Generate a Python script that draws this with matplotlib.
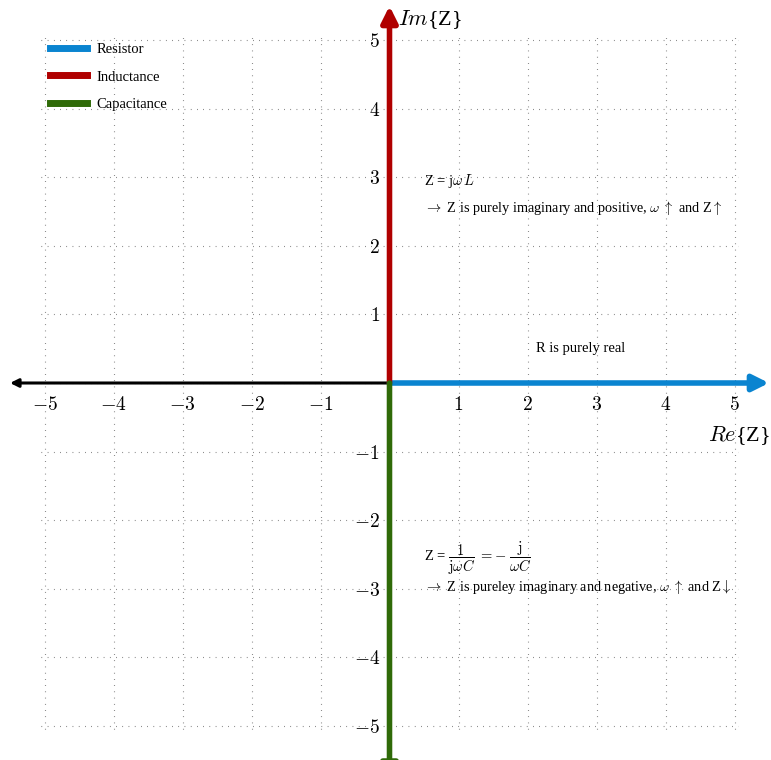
import matplotlib
matplotlib.use('Agg')
import matplotlib.pyplot as plt
from matplotlib.lines import Line2D

plt.rcParams['font.family'] = ['Liberation Serif', 'DejaVu Serif']
plt.rcParams['mathtext.fontset'] = 'cm'

##############################################################################
# Data
##############################################################################
ticks = [-5, -4, -3, -2, -1, 1, 2, 3, 4, 5]
tick_labels = [r'$%d$' % t if t > 0 else r'$-%d$' % -t for t in ticks]
grid_vals = [-5, -4, -3, -2, -1, 0, 1, 2, 3, 4, 5]

names = ['Resistor', 'Inductance', 'Capacitance']
colors = ['#0a84d0', '#b00000', '#2f6a08']
ends = [(5.5, 0), (0, 5.5), (0, -5.8)]  # phasor arrow tips
real_axis_tip = (-5.5, 0)

lim = 5.5

##############################################################################
# Plot
##############################################################################
fig = plt.figure(figsize=(7.71, 7.60), dpi=100)
ax = fig.add_axes([10 / 771, 0.0, 759 / 771, 754 / 760])
ax.set_xlim(-lim, lim)
ax.set_ylim(-lim, lim)

# dotted grid only over -5..5
for g in grid_vals:
    ax.plot([g, g], [-5.05, 5.05], color='#555555', lw=0.8,
            linestyle=(0, (0.6, 5)), zorder=0)
    ax.plot([-5.05, 5.05], [g, g], color='#555555', lw=0.8,
            linestyle=(0, (0.6, 5)), zorder=0)

# axes through origin, ticks only as labels
for s in ax.spines:
    ax.spines[s].set_visible(False)
ax.spines['bottom'].set_position('zero')
ax.spines['left'].set_position('zero')
ax.set_xticks(ticks)
ax.set_xticklabels(tick_labels, fontsize=14)
ax.set_yticks(ticks)
ax.set_yticklabels(tick_labels, fontsize=14)
ax.tick_params(axis='x', length=0, pad=9)
ax.tick_params(axis='y', length=0, pad=7)

# black negative real axis
ax.annotate('', xy=real_axis_tip, xytext=(0, 0),
            arrowprops=dict(arrowstyle='-|>', lw=2.2, color='black',
                            mutation_scale=12, shrinkA=0, shrinkB=0))

# phasor arrows (capacitance tip runs past the bottom edge)
for name, c, e in zip(names, colors, ends):
    ax.annotate('', xy=e, xytext=(0, 0), annotation_clip=False,
                arrowprops=dict(arrowstyle='-|>', lw=4, color=c,
                                mutation_scale=24, shrinkA=0, shrinkB=0),
                zorder=3)

# axis names
ax.text(0.12, 5.30, r'$Im${Z}', fontsize=16, va='center', ha='left')
ax.text(5.52, -0.77, r'$Re${Z}', fontsize=16, va='center', ha='right')

# annotations
fs = 10.5
ax.text(0.5, 2.95, r'Z = j$\omega\, L$', fontsize=fs, va='center')
ax.text(0.5, 2.55, r'$\rightarrow$ Z is purely imaginary and positive, $\omega$ $\uparrow$ and Z$\uparrow$',
        fontsize=10.3, va='center')
ax.text(2.12, 0.5, 'R is purely real', fontsize=fs, va='center')
ax.text(0.5, -2.55, r'Z = $\dfrac{1}{\mathrm{j}\omega C}$ $=-$ $\dfrac{\mathrm{j}}{\omega C}$',
        fontsize=fs, va='center')
ax.text(0.5, -2.97, r'$\rightarrow$ Z is pureley imaginary and negative, $\omega$ $\uparrow$ and Z$\downarrow$',
        fontsize=10.3, va='center')

handles = [Line2D([], [], color=c, lw=5) for c in colors]
ax.legend(handles, names, loc='upper left', bbox_to_anchor=(0.053, 0.951),
          frameon=False, fontsize=fs, handlelength=2.5, handletextpad=0.65,
          labelspacing=0.97, borderaxespad=0, borderpad=0)

fig.savefig('out.png', dpi=100)
